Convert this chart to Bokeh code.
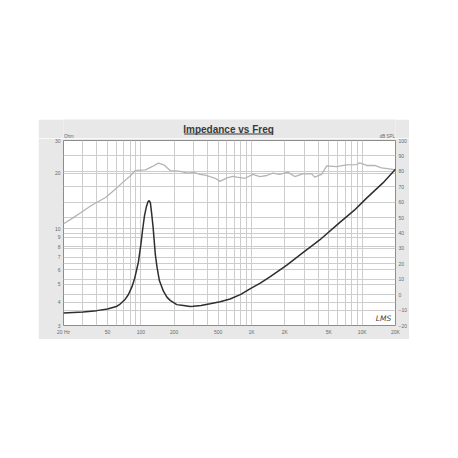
from bokeh.plotting import figure
from bokeh.layouts import column
from bokeh.models import Range1d, LinearScale, LinearAxis, FixedTicker, Label, Grid
from bokeh.core.properties import value
from bokeh.embed import file_html
from bokeh.resources import INLINE

# ---- data ----
spl_freq = [20, 24, 29, 36, 48, 58, 69, 80, 89, 100, 110, 126, 144, 163, 184, 205, 227, 267,
            300, 343, 380, 422, 470, 519, 600, 680, 739, 873, 1030, 1190, 1377, 1560, 1800,
            2130, 2460, 2900, 3500, 3720, 4300, 4780, 5870, 7240, 8900, 9480, 10960, 12940,
            14960, 17660, 20000]
spl_db = [46.0, 49.5, 53.5, 58.0, 63.0, 68.0, 73.0, 77.0, 80.5, 80.8, 81.0, 83.0, 85.3, 84.0,
          80.5, 80.3, 80.0, 78.8, 79.3, 78.0, 77.5, 76.5, 75.5, 73.5, 75.8, 76.8, 76.2, 75.5,
          78.0, 76.6, 77.3, 78.8, 78.0, 79.5, 76.6, 78.4, 78.4, 76.2, 78.0, 83.5, 83.1, 84.2,
          84.4, 85.5, 83.8, 83.8, 82.3, 81.6, 81.0]

imp_freq = [20, 30, 40, 50, 60, 65, 72, 77, 83, 88, 95, 100, 104, 108, 112, 116, 119, 122,
            125, 129, 135, 140, 147, 160, 172, 184, 211, 243, 279, 298, 350, 422, 520, 640,
            800, 968, 1200, 1466, 2070, 2800, 4130, 6250, 8500, 10900, 15400, 20000]
imp_ohm = [3.50, 3.55, 3.61, 3.68, 3.80, 3.92, 4.15, 4.40, 4.85, 5.40, 6.60, 8.20, 10.0,
           11.8, 13.1, 14.0, 14.2, 13.8, 12.2, 10.2, 7.3, 6.2, 5.25, 4.60, 4.27, 4.10, 3.89,
           3.85, 3.80, 3.81, 3.85, 3.93, 4.03, 4.17, 4.42, 4.73, 5.08, 5.49, 6.34, 7.30, 8.70,
           10.8, 12.6, 14.6, 17.7, 21.0]

x_ticks = [20, 50, 100, 200, 500, 1000, 2000, 5000, 10000, 20000]
x_tick_labels = ["20 Hz", "50", "100", "200", "500", "1K", "2K", "5K", "10K", "20K"]
x_grid = [20, 30, 40, 50, 60, 70, 80, 90, 100, 200, 300, 400, 500, 600, 700, 800, 900,
          1000, 2000, 3000, 4000, 5000, 6000, 7000, 8000, 9000, 10000, 20000]
ohm_ticks = [3, 4, 5, 6, 7, 8, 9, 10, 20, 30]
db_ticks = [-20, -10, 0, 10, 20, 30, 40, 50, 60, 70, 80, 90, 100]

title_text = "Impedance vs Freq"
left_unit = "Ohm"
right_unit = "dB SPL"
logo_text = "LMS"

PANEL = "#e8e8e8"
GRID = "#cdcdcd"
TICK_TXT = "#6a6a6a"
W = 371
FW = 333  # frame width shared by both stacked figures

# ---- header strip (title, underline, unit names); its frame aligns with the chart frame ----
head = figure(width=W, height=19, x_range=Range1d(0, FW), y_range=Range1d(0, 19),
              x_axis_location=None, y_axis_location=None,
              output_backend="svg", toolbar_location=None, min_border=0)
head.grid.visible = False
head.outline_line_color = None
head.background_fill_color = PANEL
head.border_fill_color = PANEL
head.text(x=[165.5], y=[9], text=[title_text], text_align="center", text_baseline="middle",
          text_font=value("Liberation Sans"), text_font_style="bold", text_font_size="10px",
          text_color="#3a3a3a")
head.segment(x0=[121], y0=[4.5], x1=[210], y1=[4.5], line_color="#3a3a3a", line_width=1)
head.text(x=[0.5], y=[2.5], text=[left_unit], text_align="left", text_baseline="middle",
          text_font=value("Liberation Sans"), text_font_size="4.5px", text_color=TICK_TXT)
head.text(x=[FW - 0.5], y=[2.5], text=[right_unit], text_align="right", text_baseline="middle",
          text_font=value("Liberation Sans"), text_font_size="4.5px", text_color=TICK_TXT)

# ---- main chart ----
p = figure(width=W, height=201, x_axis_type="log", y_axis_type="log",
           x_range=Range1d(20, 20000), y_range=Range1d(3, 30),
           output_backend="svg", toolbar_location=None,
           min_border_left=25, min_border_right=13, min_border_top=2, min_border_bottom=14)
p.border_fill_color = PANEL
p.background_fill_color = "white"
p.outline_line_color = "#8c8c8c"
p.outline_line_width = 1

p.extra_y_ranges = {"db": Range1d(-20, 100)}
p.extra_y_scales = {"db": LinearScale()}


def style_axis(ax):
    ax.axis_line_color = None
    ax.major_tick_line_color = None
    ax.minor_tick_line_color = None
    ax.major_tick_out = 0
    ax.major_tick_in = 0
    ax.minor_tick_out = 0
    ax.minor_tick_in = 0
    ax.major_label_text_font_size = "5px"
    ax.major_label_text_color = TICK_TXT
    ax.major_label_text_font = "Liberation Sans"
    ax.major_label_standoff = 3


style_axis(p.xaxis[0])
style_axis(p.yaxis[0])
p.xaxis[0].ticker = FixedTicker(ticks=x_ticks)
p.xaxis[0].major_label_overrides = {t: l for t, l in zip(x_ticks, x_tick_labels)}
p.yaxis[0].ticker = FixedTicker(ticks=ohm_ticks)
p.yaxis[0].major_label_overrides = {t: str(t) for t in ohm_ticks}

right = LinearAxis(y_range_name="db", ticker=FixedTicker(ticks=db_ticks))
style_axis(right)
p.add_layout(right, "right")

# grids
p.xgrid.ticker = FixedTicker(ticks=x_grid)
p.xgrid.grid_line_color = GRID
p.ygrid.ticker = FixedTicker(ticks=ohm_ticks)
p.ygrid.grid_line_color = GRID
p.add_layout(Grid(dimension=1, ticker=FixedTicker(ticks=db_ticks), y_range_name="db",
                  grid_line_color=GRID))

# curves
p.line(spl_freq, spl_db, y_range_name="db", line_color="#b4b4b4", line_width=1.3)
p.line(imp_freq, imp_ohm, line_color="#2e2e2e", line_width=1.5)

# logo
p.add_layout(Label(x=320, y=7, x_units="screen", y_units="screen", text=logo_text,
                   text_align="center", text_baseline="middle", text_font="DejaVu Sans",
                   text_font_style="italic", text_font_size="7.5px", text_color="#404040"))

layout = column(head, p, spacing=0, margin=(119, 0, 0, 38))
open("out.html", "w").write(file_html(layout, INLINE))
